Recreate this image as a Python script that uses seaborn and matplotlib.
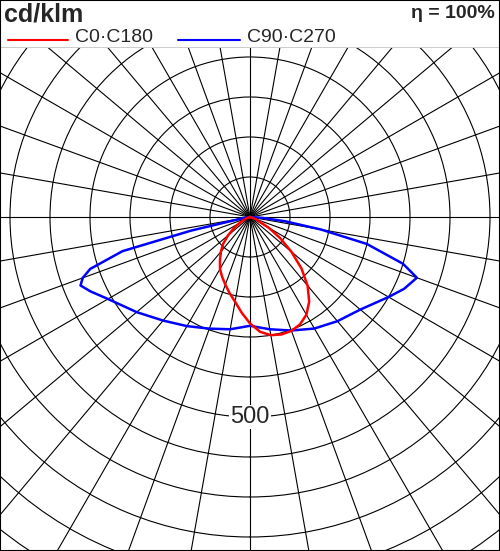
import numpy as np
import pandas as pd
import matplotlib
matplotlib.use("Agg")
import matplotlib.pyplot as plt
import seaborn as sns

# ---------------------------------------------------------------------------
# Data (gamma angle in degrees from nadir, intensity in cd/klm)
# ---------------------------------------------------------------------------
c0_gamma = [-90, -70, -60, -55, -50, -45, -40, -35, -30, -25, -20, -15, -10, -5, 0,
            5, 10, 15, 20, 25, 30, 35, 40, 45, 50, 55, 60, 70, 90]
c0_cd    = [0, 10, 30, 50, 72, 95, 113, 131, 150, 165, 180, 197, 215, 240, 266,
            288, 300, 304, 303, 296, 282, 258, 224, 182, 135, 92, 55, 15, 0]

c90_gamma = [-90, -80, -77, -75, -72, -70, -68, -65, -60, -50, -40, -30, -20, -10,
             0, 10, 20, 30, 40, 50, 60, 65, 70, 73, 77, 80, 83, 86, 90]
c90_cd    = [0, 20, 150, 330, 420, 445, 457, 440, 410, 370, 338, 315, 297, 285,
             272, 285, 302, 322, 340, 360, 400, 425, 444, 400, 300, 180, 90, 30, 0]

ring_step = 100
r_max = 1100
label_value = 500
efficiency = "100%"

sns.set_style("white")
plt.rcParams['font.family'] = ['Liberation Sans', 'DejaVu Sans']

W, H = 500, 551
cx, cy = 250, 217
rad_px = r_max * 40 / ring_step

fig = plt.figure(figsize=(W / 100, H / 100), dpi=100)
ax = fig.add_axes([(cx - rad_px) / W, (H - cy - rad_px) / H, 2 * rad_px / W, 2 * rad_px / H],
                  projection="polar")
ax.set_theta_zero_location("S")
ax.set_theta_direction(1)
ax.set_ylim(0, r_max)
ax.set_rticks(np.arange(ring_step, r_max + 1, ring_step))
ax.set_thetagrids(np.arange(0, 360, 10))
ax.set_xticklabels([])
ax.set_yticklabels([])
ax.grid(True, color="black", linewidth=0.8)
ax.spines["polar"].set_visible(False)

df0 = pd.DataFrame({"t": np.radians(c0_gamma), "r": c0_cd})
df90 = pd.DataFrame({"t": np.radians(c90_gamma), "r": c90_cd})
sns.lineplot(data=df90, x="t", y="r", sort=False, color="#0000ff", linewidth=1.8, ax=ax)
sns.lineplot(data=df0, x="t", y="r", sort=False, color="#ff0000", linewidth=1.8, ax=ax)
ax.set_xlabel("")
ax.set_ylabel("")

ax.text(0, label_value, str(label_value), ha="center", va="center", fontsize=17,
        bbox=dict(facecolor="white", edgecolor="none", pad=1))

# header band
hdr = fig.add_axes([0, 1 - 48 / H, 1, 48 / H])
hdr.set_xlim(0, W)
hdr.set_ylim(48, 0)
hdr.axis("off")
hdr.add_patch(plt.Rectangle((0, 0), W, 48, facecolor="white", edgecolor="none"))
hdr.plot([0, W], [48, 48], color="black", linewidth=1)
hdr.text(4, 14, "cd/klm", fontsize=18, fontweight="bold", va="center")
hdr.text(495, 14, "η = " + efficiency, fontsize=14, fontweight="bold", va="center", ha="right")
hdr.plot([8, 68], [40, 40], color="#ff0000", linewidth=1.5)
hdr.text(75, 38, "C0·C180", fontsize=14, va="center")
hdr.plot([178, 240], [40, 40], color="#0000ff", linewidth=1.5)
hdr.text(247, 38, "C90·C270", fontsize=14, va="center")

fig.patches.append(plt.Rectangle((0, 0), 1, 1, transform=fig.transFigure, fill=False,
                                 edgecolor="black", linewidth=1.5))
fig.savefig("out.png", dpi=100)
